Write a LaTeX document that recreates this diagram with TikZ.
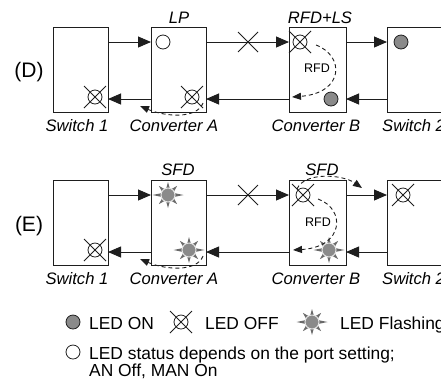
\documentclass[tikz,border=0pt]{standalone}
\usepackage{fontspec}
\setmainfont{Liberation Sans}
\usetikzlibrary{arrows.meta,calc}
\definecolor{ledgrey}{HTML}{8A8A8A}
\definecolor{raygrey}{HTML}{6A6A6A}
\definecolor{linegrey}{HTML}{1E1E1E}
\begin{document}
\begin{tikzpicture}[x=1bp,y=-1bp,
  box/.style={draw=linegrey,line width=0.9bp,minimum width=55bp,minimum height=85bp,inner sep=0pt,outer sep=0pt},
  arr/.style={draw=linegrey,line width=0.9bp,-{Triangle[length=13bp,width=11bp]}},
  darr/.style={draw=linegrey,line width=0.9bp,dash pattern=on 4bp off 3bp,-{Triangle[length=9bp,width=7bp]}},
  lbl/.style={font=\fontsize{16.6bp}{19bp}\selectfont\itshape,anchor=base,inner sep=0pt},
  txt/.style={font=\fontsize{17.4bp}{20bp}\selectfont,anchor=base west,inner sep=0pt},
  big/.style={font=\fontsize{21bp}{24bp}\selectfont,inner sep=0pt},
  small/.style={font=\fontsize{12.5bp}{14bp}\selectfont,inner sep=0pt},
  ledoff/.pic={\draw[linegrey,line width=0.8bp] (0,0) circle (7bp) (-11,-11)--(11,11) (-11,11)--(11,-11);},
  ledon/.pic={\draw[linegrey,line width=0.8bp,fill=ledgrey] (0,0) circle (7bp);},
  ledopen/.pic={\draw[linegrey,line width=0.8bp] (0,0) circle (7bp);},
  ledflash/.pic={
    \foreach \a in {45,90,135,225,270,315}{\fill[raygrey] (\a:13) -- (\a+20:6) -- (\a-20:6) -- cycle;}
    \foreach \a in {0,180}{\fill[raygrey] (\a:15.5) -- (\a+20:6) -- (\a-20:6) -- cycle;}
    \draw[white!80!gray,line width=1bp,fill=ledgrey] (0,0) circle (7bp);},
  cross/.pic={\draw[linegrey,line width=0.8bp] (-10,-10)--(10,10) (-10,10)--(10,-10);}
]
\useasboundingbox (0,0) rectangle (441,379);

% ---------- (D) ----------
\node[box] (sw1) at (80.5,69.5) {};
\node[box] (ca) at (178.5,69.5) {};
\node[box,minimum width=57bp] (cb) at (317.5,69.5) {};
\node[box,minimum width=60bp] (sw2) at (417,69.5) {};

\draw[arr] ([yshift=-15bp]sw1.north east) -- ([yshift=-15bp]ca.north west);
\draw[arr] ([yshift=-15bp]ca.north east) -- ([yshift=-15bp]cb.north west);
\draw[arr] ([yshift=-15bp]cb.north east) -- ([yshift=-15bp]sw2.north west);
\draw[arr] ([yshift=13bp]sw2.south west) -- ([yshift=13bp]cb.south east);
\draw[arr] ([yshift=13bp]cb.south west) -- ([yshift=13bp]ca.south east);
\draw[arr] ([yshift=13bp]ca.south west) -- ([yshift=13bp]sw1.south east);
\pic at (248,42) {cross};

\pic at (95,97) {ledoff};
\pic at (163,42) {ledopen};
\pic at (192,97) {ledoff};
\pic at (300,42) {ledoff};
\pic at (331,99) {ledon};
\pic at (401,42) {ledon};

\coordinate (dAs) at (203,103);
\coordinate (dAe) at (140,106);
\draw[darr] (dAs) .. controls (197,119) and (166,117) .. (dAe);
\coordinate (dBs) at (316,45);
\coordinate (dBe) at (292,97);
\draw[darr] (dBs) .. controls (345,56) and (344,93) .. (dBe);
\node[small] (rfdD) at (317,68) {RFD};

\node[big] (labD) at (29,72) {(D)};
\node[lbl] (lp) at (179,23) {LP};
\node[lbl] (rfdls) at (320,23) {RFD+LS};
\node[lbl] (nsw1) at (77,131) {Switch 1};
\node[lbl] (nca) at (174,131) {Converter A};
\node[lbl] (ncb) at (316,131) {Converter B};
\node[lbl,anchor=base west] (nsw2) at (382,131) {Switch 2};

% ---------- (E) ----------
\node[box] (sw1e) at (80.5,222.5) {};
\node[box] (cae) at (178.5,222.5) {};
\node[box,minimum width=57bp] (cbe) at (317.5,222.5) {};
\node[box,minimum width=60bp] (sw2e) at (417,222.5) {};

\draw[arr] ([yshift=-15bp]sw1e.north east) -- ([yshift=-15bp]cae.north west);
\draw[arr] ([yshift=-15bp]cae.north east) -- ([yshift=-15bp]cbe.north west);
\draw[arr] ([yshift=-15bp]cbe.north east) -- ([yshift=-15bp]sw2e.north west);
\draw[arr] ([yshift=13bp]sw2e.south west) -- ([yshift=13bp]cbe.south east);
\draw[arr] ([yshift=13bp]cbe.south west) -- ([yshift=13bp]cae.south east);
\draw[arr] ([yshift=13bp]cae.south west) -- ([yshift=13bp]sw1e.south east);
\pic at (248,195) {cross};

\pic at (95,250) {ledoff};
\pic at (168,195) {ledflash};
\pic at (189,250) {ledflash};
\pic at (303,195) {ledoff};
\pic at (329,250) {ledflash};
\pic at (403,195) {ledoff};

\coordinate (eAs) at (203,256);
\coordinate (eAe) at (140,259);
\draw[darr] (eAs) .. controls (197,272) and (166,270) .. (eAe);
\coordinate (eSs) at (297,189);
\coordinate (eSe) at (362,188);
\draw[darr] (eSs) .. controls (304,172) and (342,174) .. (eSe);
\coordinate (eBs) at (318,199);
\coordinate (eBe) at (293,250);
\draw[darr] (eBs) .. controls (346,209) and (344,247) .. (eBe);
\node[small] (rfdE) at (318,222) {RFD};

\node[big] (labE) at (29,226) {(E)};
\node[lbl] (sfd1) at (178,175) {SFD};
\node[lbl] (sfd2) at (322,175) {SFD};
\node[lbl] (nsw1e) at (77,284) {Switch 1};
\node[lbl] (ncae) at (174,284) {Converter A};
\node[lbl] (ncbe) at (316,284) {Converter B};
\node[lbl,anchor=base west] (nsw2e) at (382,284) {Switch 2};

% ---------- legend ----------
\pic at (73,322) {ledon};
\node[txt] (lon) at (89,329) {LED ON};
\pic at (181,322) {ledoff};
\node[txt] (loff) at (205,329) {LED OFF};
\pic at (312,322) {ledflash};
\node[txt] (lfl) at (340,329) {LED Flashing};
\pic at (73,352) {ledopen};
\node[txt] (lst) at (89,359) {LED status depends on the port setting;};
\node[txt] (lan) at (89,376) {AN Off, MAN On};
\end{tikzpicture}
\end{document}
